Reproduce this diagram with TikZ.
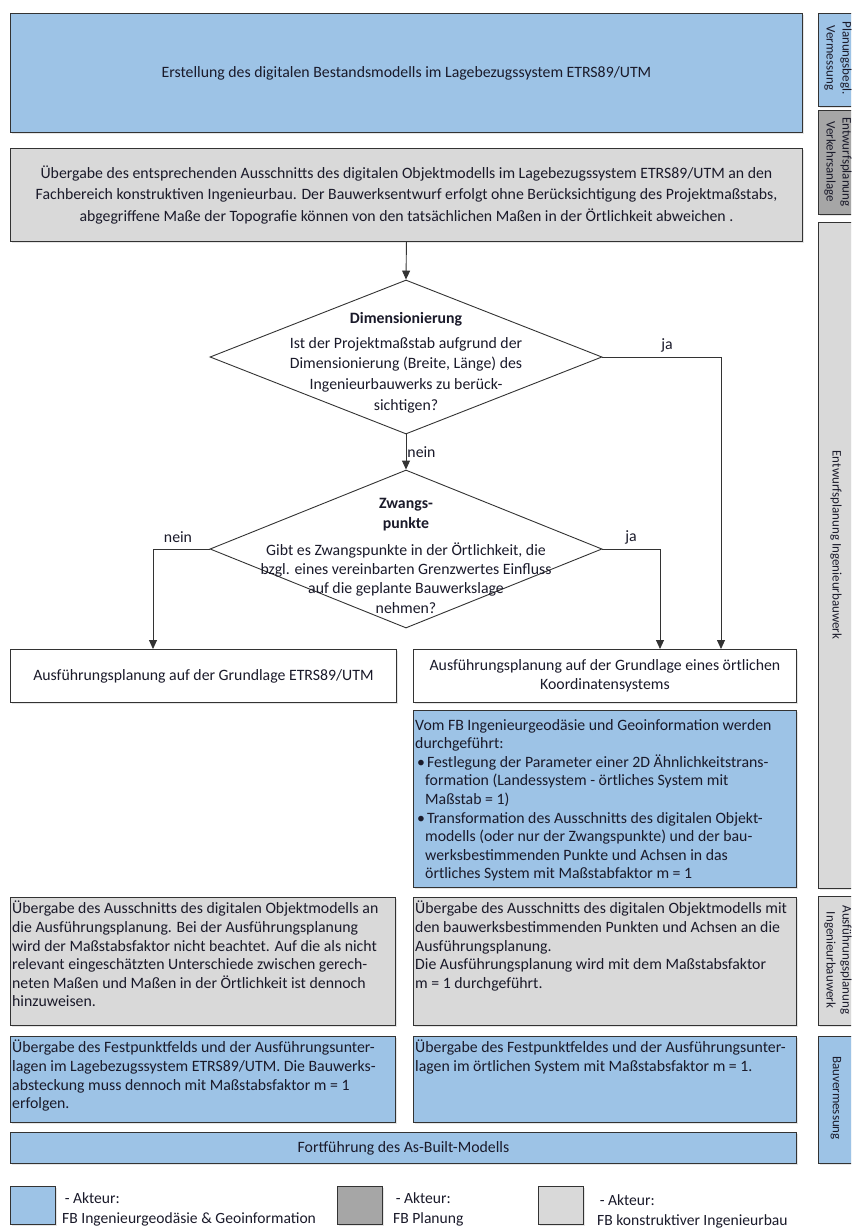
\documentclass[tikz,border=0pt]{standalone}
\usepackage{fontspec}
\setmainfont{Carlito}
\usetikzlibrary{arrows.meta,shapes.geometric,shadows,calc}
\definecolor{cblue}{HTML}{9DC3E6}
\definecolor{cmid}{HTML}{A6A6A6}
\definecolor{clight}{HTML}{D9D9D9}
\definecolor{ctext}{HTML}{1A1A2A}
\definecolor{cline}{HTML}{333333}
\begin{document}
\begin{tikzpicture}[x=1pt,y=-1pt,
  font=\fontsize{15.8}{18.6}\selectfont, text=ctext,
  box/.style={draw=cline, line width=0.9pt, inner sep=2pt, anchor=north west, align=center,
    drop shadow={shadow xshift=2pt,shadow yshift=-2pt,opacity=0.2}},
  txt/.style={inner sep=0pt, anchor=north west, align=left},
  dia/.style={diamond, draw=cline, line width=0.9pt, fill=white, inner sep=0pt},
  arr/.style={draw=cline, line width=0.9pt, -{Triangle[length=9pt,width=8pt]}},
  lab/.style={inner sep=1pt},
  side/.style={draw=cline, line width=0.9pt, anchor=north west, minimum width=55pt,
    drop shadow={shadow xshift=2pt,shadow yshift=-2pt,opacity=0.2}},
  sidetxt/.style={rotate=-90, align=center, font=\fontsize{13}{16}\selectfont}
]
\path[use as bounding box, clip] (0,0) rectangle (851,1228);
\fill[white] (0,0) rectangle (851,1228);

% main boxes
\node[box, fill=cblue, minimum width=792pt, minimum height=119pt] (b1) at (10,13)
  {Erstellung des digitalen Bestandsmodells im Lagebezugssystem ETRS89/UTM};
\node[box, fill=clight, minimum width=792pt, minimum height=93pt,
      font=\fontsize{15.8}{21.5}\selectfont] (b2) at (10,148)
  {Übergabe des entsprechenden Ausschnitts des digitalen Objektmodells im Lagebezugssystem ETRS89/UTM an den\\
   Fachbereich konstruktiven Ingenieurbau. Der Bauwerksentwurf erfolgt ohne Berücksichtigung des Projektmaßstabs,\\
   abgegriffene Maße der Topografie können von den tatsächlichen Maßen in der Örtlichkeit abweichen .};

% diamonds
\node[dia, minimum width=392pt, minimum height=154pt] (d1) at (406,357) {};
\node[font=\fontsize{15.8}{18.6}\selectfont\bfseries, inner sep=0pt] (d1h) at (406,319) {Dimensionierung};
\node[align=center, inner sep=0pt, font=\fontsize{15.8}{20.7}\selectfont] (d1t) at (406,375)
  {Ist der Projektmaßstab aufgrund der\\Dimensionierung (Breite, Länge) des\\Ingenieurbauwerks zu berück-\\sichtigen?};

\node[dia, minimum width=392pt, minimum height=158pt] (d2) at (406,549) {};
\node[font=\fontsize{15.8}{20}\selectfont\bfseries, align=center, inner sep=0pt] (d2h) at (406,515) {Zwangs-\\punkte};
\node[align=center, inner sep=0pt, font=\fontsize{15.8}{19.3}\selectfont] (d2t) at (406,578)
  {Gibt es Zwangspunkte in der Örtlichkeit, die\\bzgl. eines vereinbarten Grenzwertes Einfluss\\auf die geplante Bauwerkslage\\nehmen?};

% result boxes
\node[box, fill=white, minimum width=386pt, minimum height=53pt] (l1) at (10,649)
  {Ausführungsplanung auf der Grundlage ETRS89/UTM};
\node[box, fill=white, minimum width=383pt, minimum height=53pt] (r1) at (413,649)
  {Ausführungsplanung auf der Grundlage eines örtlichen\\Koordinatensystems};

\node[box, fill=cblue, minimum width=383pt, minimum height=177pt] (r2) at (413,710) {};
\node[txt] (r2t) at ([xshift=2pt,yshift=-9pt]r2.north west)
  {Vom FB Ingenieurgeodäsie und Geoinformation werden\\
   durchgeführt:\\
   \hspace*{2pt}•\hspace*{2pt}Festlegung der Parameter einer 2D Ähnlichkeitstrans-\\
   \hspace*{10pt}formation (Landessystem - örtliches System mit\\
   \hspace*{10pt}Maßstab = 1)\\
   \hspace*{2pt}•\hspace*{2pt}Transformation des Ausschnitts des digitalen Objekt-\\
   \hspace*{10pt}modells (oder nur der Zwangspunkte) und der bau-\\
   \hspace*{10pt}werksbestimmenden Punkte und Achsen in das\\
   \hspace*{10pt}örtliches System mit Maßstabfaktor m = 1};

\node[box, fill=clight, minimum width=385pt, minimum height=128pt] (l3) at (10,897) {};
\node[txt] (l3t) at ([xshift=2pt,yshift=-4pt]l3.north west)
  {Übergabe des Ausschnitts des digitalen Objektmodells an\\
   die Ausführungsplanung. Bei der Ausführungsplanung\\
   wird der Maßstabsfaktor nicht beachtet. Auf die als nicht\\
   relevant eingeschätzten Unterschiede zwischen gerech-\\
   neten Maßen und Maßen in der Örtlichkeit ist dennoch\\
   hinzuweisen.};

\node[box, fill=clight, minimum width=383pt, minimum height=128pt] (r3) at (413,897) {};
\node[txt] (r3t) at ([xshift=2pt,yshift=-4pt]r3.north west)
  {Übergabe des Ausschnitts des digitalen Objektmodells mit\\
   den bauwerksbestimmenden Punkten und Achsen an die\\
   Ausführungsplanung.\\
   Die Ausführungsplanung wird mit dem Maßstabsfaktor\\
   m = 1 durchgeführt.};

\node[box, fill=cblue, minimum width=385pt, minimum height=86pt] (l4) at (10,1036) {};
\node[txt] (l4t) at ([xshift=2pt,yshift=-4pt]l4.north west)
  {Übergabe des Festpunktfelds und der Ausführungsunter-\\
   lagen im Lagebezugssystem ETRS89/UTM. Die Bauwerks-\\
   absteckung muss dennoch mit Maßstabsfaktor m = 1\\
   erfolgen.};

\node[box, fill=cblue, minimum width=383pt, minimum height=86pt] (r4) at (413,1036) {};
\node[txt] (r4t) at ([xshift=2pt,yshift=-4pt]r4.north west)
  {Übergabe des Festpunktfeldes und der Ausführungsunter-\\
   lagen im örtlichen System mit Maßstabsfaktor m = 1.};

\node[box, fill=cblue, minimum width=786pt, minimum height=31pt] (bar) at (10,1132)
  {Fortführung des As-Built-Modells};

% side bars
\node[side, fill=cblue, minimum height=93pt] (s1) at (818,13) {};
\node[sidetxt] at (838,58) {Planungsbegl.\\Vermessung};
\node[side, fill=cmid, minimum height=104pt] (s2) at (818,110) {};
\node[sidetxt] at (838,162) {Entwurfsplanung\\Verkehrsanlage};
\node[side, fill=clight, minimum height=666pt] (s3) at (818,222) {};
\node[sidetxt] at (836,545) {Entwurfsplanung Ingenieurbauwerk};
\node[side, fill=clight, minimum height=129pt] (s4) at (818,896) {};
\node[sidetxt] at (838,960) {Ausführungsplanung\\Ingenieurbauwerk};
\node[side, fill=cblue, minimum height=127pt] (s5) at (818,1036) {};
\node[sidetxt] at (836,1098) {Bauvermessung};

% connectors
\coordinate (r1ja) at (721,649);
\coordinate (r1ja2) at (660,649);
\coordinate (l1nein) at (153,649);
\draw[arr] (b2.south) -- (d1.north);
\draw[arr] (d1.south) -- node[lab, right, pos=0.5] {nein} (d2.north);
\draw[arr] (d1.east) -| (r1ja);
\node[lab] at (667,345) {ja};
\draw[arr] (d2.west) -| (l1nein);
\node[lab] at (178,537) {nein};
\draw[arr] (d2.east) -| (r1ja2);
\node[lab] at (631,537) {ja};

% legend
\node[box, fill=cblue, minimum width=45pt, minimum height=38pt] (lg1) at (10,1186) {};
\node[txt, anchor=west, font=\fontsize{15.6}{20}\selectfont] (lg1t) at (62,1209) {\,- Akteur:\\FB Ingenieurgeodäsie \& Geoinformation};
\node[box, fill=cmid, minimum width=45pt, minimum height=38pt] (lg2) at (337,1186) {};
\node[txt, anchor=west, font=\fontsize{15.6}{20}\selectfont] (lg2t) at (393,1209) {\,- Akteur:\\FB Planung};
\node[box, fill=clight, minimum width=45pt, minimum height=38pt] (lg3) at (538,1186) {};
\node[txt, anchor=west, font=\fontsize{15.6}{20}\selectfont] (lg3t) at (597,1211) {\,- Akteur:\\FB konstruktiver Ingenieurbau};
\end{tikzpicture}
\end{document}
